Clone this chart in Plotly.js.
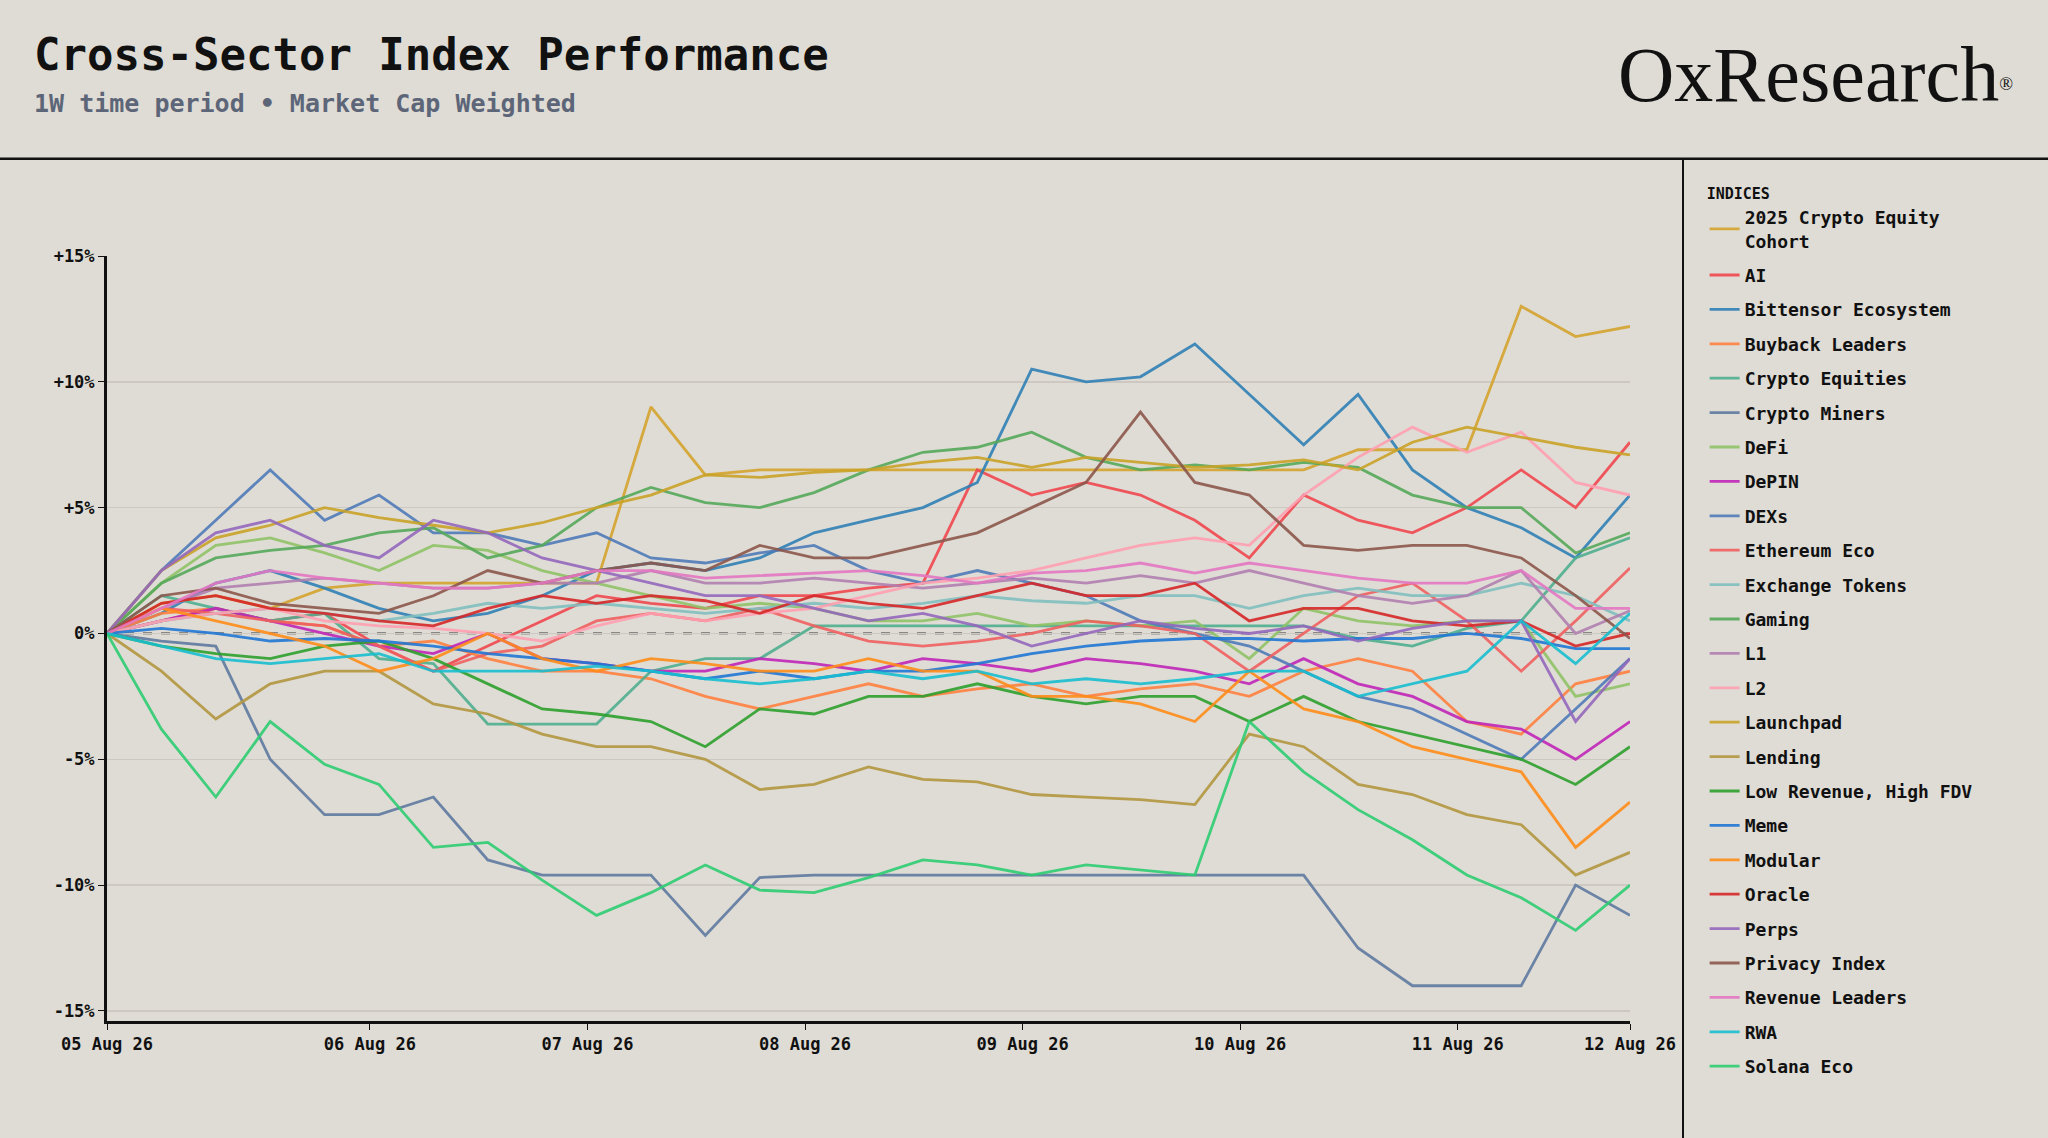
<!DOCTYPE html>
<html>
<head>
<meta charset="utf-8">
<script src="https://cdn.plot.ly/plotly-3.0.1.min.js"></script>
<style>
  html, body { margin: 0; padding: 0; background: #dfdcd5; }
  #chart { width: 2048px; height: 1138px; }
</style>
</head>
<body>
<div id="chart"></div>
<script>
// 1W of index returns (%), one point every 6 hours
const startTime = '2026-08-04T19:00:00';
const stepHours = 6;

const seriesNames = [
    '2025 Crypto Equity<br>Cohort', 'AI', 'Bittensor Ecosystem', 'Buyback Leaders', 'Crypto Equities',
    'Crypto Miners', 'DeFi', 'DePIN', 'DEXs', 'Ethereum Eco', 'Exchange Tokens', 'Gaming', 'L1', 'L2',
    'Launchpad', 'Lending', 'Low Revenue, High FDV', 'Meme', 'Modular', 'Oracle', 'Perps',
    'Privacy Index', 'Revenue Leaders', 'RWA', 'Solana Eco'
];

const seriesColors = [
    '#d4a32c', '#f0474f', '#2f7fb5', '#ff7f3f', '#4fae8f',
    '#5e79a0', '#8fc266', '#c026b8', '#4f7ab8', '#ef5f5f', '#7fbfbf', '#55a85a', '#b07fb0', '#ff9fb0',
    '#c9a227', '#b3963f', '#2ca02c', '#1f77d4', '#ff8c1a', '#d62728', '#9467bd',
    '#8c564b', '#e377c2', '#17becf', '#2ecc71'
];

const cohort2025 = [0, 1.2, 1.5, 1.0, 1.8, 2.0, 2.0, 2.0, 2.0, 2.0, 9.0, 6.3, 6.5, 6.5, 6.5, 6.5, 6.5, 6.5, 6.5, 6.5, 6.5, 6.5, 6.5, 7.3, 7.3, 7.3, 13.0, 11.8, 12.2];
const ai = [0, 0.5, 1.0, 0.5, 0.8, -0.5, -1.5, -0.5, 0.5, 1.5, 1.2, 1.0, 1.5, 1.5, 1.8, 2.0, 6.5, 5.5, 6.0, 5.5, 4.5, 3.0, 5.5, 4.5, 4.0, 5.0, 6.5, 5.0, 7.6];
const bittensor = [0, 0.8, 2.0, 2.5, 1.8, 1.0, 0.5, 0.8, 1.5, 2.5, 2.8, 2.5, 3.0, 4.0, 4.5, 5.0, 6.0, 10.5, 10.0, 10.2, 11.5, 9.5, 7.5, 9.5, 6.5, 5.0, 4.2, 3.0, 5.5];
const buyback = [0, 0.8, 1.0, 0.5, 0.3, -0.5, -0.3, -1.0, -1.5, -1.5, -1.8, -2.5, -3.0, -2.5, -2.0, -2.5, -2.2, -2.0, -2.5, -2.2, -2.0, -2.5, -1.5, -1.0, -1.5, -3.5, -4.0, -2.0, -1.5];
const cryptoEquities = [0, 1.5, 1.0, 0.5, 0.8, -1.0, -1.2, -3.6, -3.6, -3.6, -1.5, -1.0, -1.0, 0.3, 0.3, 0.3, 0.3, 0.3, 0.3, 0.3, 0.3, 0.3, 0.3, -0.2, -0.5, 0.2, 0.5, 3.0, 3.8];
const cryptoMiners = [0, -0.3, -0.5, -5.0, -7.2, -7.2, -6.5, -9.0, -9.6, -9.6, -9.6, -12.0, -9.7, -9.6, -9.6, -9.6, -9.6, -9.6, -9.6, -9.6, -9.6, -9.6, -9.6, -12.5, -14.0, -14.0, -14.0, -10.0, -11.2];
const defi = [0, 2.0, 3.5, 3.8, 3.2, 2.5, 3.5, 3.3, 2.5, 2.0, 1.5, 1.0, 1.2, 1.0, 0.5, 0.5, 0.8, 0.3, 0.5, 0.3, 0.5, -1.0, 1.0, 0.5, 0.3, 0.5, 0.5, -2.5, -2.0];
const depin = [0, 0.5, 1.0, 0.5, 0.0, -0.5, -0.8, 0.0, -1.0, -1.2, -1.5, -1.5, -1.0, -1.2, -1.5, -1.0, -1.2, -1.5, -1.0, -1.2, -1.5, -2.0, -1.0, -2.0, -2.5, -3.5, -3.8, -5.0, -3.5];
const dexs = [0, 2.5, 4.5, 6.5, 4.5, 5.5, 4.0, 4.0, 3.5, 4.0, 3.0, 2.8, 3.2, 3.5, 2.5, 2.0, 2.5, 2.0, 1.5, 0.5, 0.0, -0.5, -1.5, -2.5, -3.0, -4.0, -5.0, -3.0, -1.0];
const ethereumEco = [0, 1.0, 0.8, 0.5, 0.3, -0.5, -1.5, -0.8, -0.5, 0.5, 0.8, 0.5, 1.0, 0.3, -0.3, -0.5, -0.3, 0.0, 0.5, 0.3, 0.0, -1.5, 0.0, 1.5, 2.0, 0.5, -1.5, 0.5, 2.6];
const exchangeTokens = [0, 0.5, 0.8, 1.0, 0.8, 0.5, 0.8, 1.2, 1.0, 1.2, 1.0, 0.8, 1.0, 1.2, 1.0, 1.2, 1.5, 1.3, 1.2, 1.5, 1.5, 1.0, 1.5, 1.8, 1.5, 1.5, 2.0, 1.5, 0.5];
const gaming = [0, 2.0, 3.0, 3.3, 3.5, 4.0, 4.2, 3.0, 3.5, 5.0, 5.8, 5.2, 5.0, 5.6, 6.5, 7.2, 7.4, 8.0, 7.0, 6.5, 6.7, 6.5, 6.8, 6.6, 5.5, 5.0, 5.0, 3.2, 4.0];
const l1 = [0, 1.0, 1.8, 2.0, 2.2, 2.0, 1.8, 1.8, 2.0, 2.0, 2.5, 2.0, 2.0, 2.2, 2.0, 1.8, 2.0, 2.2, 2.0, 2.3, 2.0, 2.5, 2.0, 1.5, 1.2, 1.5, 2.5, 0.0, 0.9];
const l2 = [0, 0.5, 0.8, 1.0, 0.5, 0.3, 0.2, 0.0, -0.3, 0.3, 0.8, 0.5, 0.8, 1.0, 1.5, 2.0, 2.2, 2.5, 3.0, 3.5, 3.8, 3.5, 5.5, 7.0, 8.2, 7.2, 8.0, 6.0, 5.5];
const launchpad = [0, 2.5, 3.8, 4.3, 5.0, 4.6, 4.3, 4.0, 4.4, 5.0, 5.5, 6.3, 6.2, 6.4, 6.5, 6.8, 7.0, 6.6, 7.0, 6.8, 6.6, 6.7, 6.9, 6.5, 7.6, 8.2, 7.8, 7.4, 7.1];
const lending = [0, -1.5, -3.4, -2.0, -1.5, -1.5, -2.8, -3.2, -4.0, -4.5, -4.5, -5.0, -6.2, -6.0, -5.3, -5.8, -5.9, -6.4, -6.5, -6.6, -6.8, -4.0, -4.5, -6.0, -6.4, -7.2, -7.6, -9.6, -8.7];
const lowRevenue = [0, -0.5, -0.8, -1.0, -0.5, -0.3, -1.0, -2.0, -3.0, -3.2, -3.5, -4.5, -3.0, -3.2, -2.5, -2.5, -2.0, -2.5, -2.8, -2.5, -2.5, -3.5, -2.5, -3.5, -4.0, -4.5, -5.0, -6.0, -4.5];
const meme = [0, 0.2, 0.0, -0.3, -0.2, -0.3, -0.5, -0.8, -1.0, -1.2, -1.5, -1.8, -1.5, -1.8, -1.5, -1.5, -1.2, -0.8, -0.5, -0.3, -0.2, -0.2, -0.3, -0.2, -0.2, 0.0, -0.2, -0.6, -0.6];
const modular = [0, 1.0, 0.5, 0.0, -0.5, -1.5, -1.0, 0.0, -1.0, -1.5, -1.0, -1.2, -1.5, -1.5, -1.0, -1.5, -1.5, -2.5, -2.5, -2.8, -3.5, -1.5, -3.0, -3.5, -4.5, -5.0, -5.5, -8.5, -6.7];
const oracle = [0, 1.2, 1.5, 1.0, 0.8, 0.5, 0.3, 1.0, 1.5, 1.2, 1.5, 1.3, 0.8, 1.5, 1.2, 1.0, 1.5, 2.0, 1.5, 1.5, 2.0, 0.5, 1.0, 1.0, 0.5, 0.3, 0.5, -0.5, 0.0];
const perps = [0, 2.5, 4.0, 4.5, 3.5, 3.0, 4.5, 4.0, 3.0, 2.5, 2.0, 1.5, 1.5, 1.0, 0.5, 0.8, 0.3, -0.5, 0.0, 0.5, 0.2, 0.0, 0.3, -0.3, 0.2, 0.5, 0.5, -3.5, -1.0];
const privacy = [0, 1.5, 1.8, 1.2, 1.0, 0.8, 1.5, 2.5, 2.0, 2.5, 2.8, 2.5, 3.5, 3.0, 3.0, 3.5, 4.0, 5.0, 6.0, 8.8, 6.0, 5.5, 3.5, 3.3, 3.5, 3.5, 3.0, 1.5, -0.2];
const revenueLeaders = [0, 1.0, 2.0, 2.5, 2.2, 2.0, 1.8, 1.8, 2.0, 2.5, 2.5, 2.2, 2.3, 2.4, 2.5, 2.3, 2.0, 2.4, 2.5, 2.8, 2.4, 2.8, 2.5, 2.2, 2.0, 2.0, 2.5, 1.0, 1.0];
const rwa = [0, -0.5, -1.0, -1.2, -1.0, -0.8, -1.5, -1.5, -1.5, -1.3, -1.5, -1.8, -2.0, -1.8, -1.5, -1.8, -1.5, -2.0, -1.8, -2.0, -1.8, -1.5, -1.5, -2.5, -2.0, -1.5, 0.5, -1.2, 0.8];
const solanaEco = [0, -3.8, -6.5, -3.5, -5.2, -6.0, -8.5, -8.3, -9.8, -11.2, -10.3, -9.2, -10.2, -10.3, -9.7, -9.0, -9.2, -9.6, -9.2, -9.4, -9.6, -3.5, -5.5, -7.0, -8.2, -9.6, -10.5, -11.8, -10.0];

const seriesValues = [
    cohort2025, ai, bittensor, buyback, cryptoEquities, cryptoMiners, defi, depin, dexs, ethereumEco,
    exchangeTokens, gaming, l1, l2, launchpad, lending, lowRevenue, meme, modular, oracle, perps,
    privacy, revenueLeaders, rwa, solanaEco
];

const yTickVals = [15, 10, 5, 0, -5, -10, -15];
const yTickText = ['+15%', '+10%', '+5%', '0%', '-5%', '-10%', '-15%'];
const xTickVals = ['2026-08-04T19:00:00', '2026-08-06', '2026-08-07', '2026-08-08', '2026-08-09', '2026-08-10', '2026-08-11', '2026-08-11T19:00:00'];
const xTickText = ['05 Aug 26', '06 Aug 26', '07 Aug 26', '08 Aug 26', '09 Aug 26', '10 Aug 26', '11 Aug 26', '12 Aug 26'];

// timestamps for each sample
const t0 = new Date(startTime + 'Z').getTime();
const times = cohort2025.map(function(_, i) {
    return new Date(t0 + i * stepHours * 3600 * 1000).toISOString().slice(0, 19);
});

const mono = 'DejaVu Sans Mono, monospace';
const bg = '#dfdcd5';

// plot area is 107..1630 px wide, 256..1021 px tall; paper refs below are relative to it
const data = seriesNames.map(function(name, i) {
    return {
        type: 'scatter',
        mode: 'lines',
        name: name,
        legendgroup: 'g' + i,
        x: times,
        y: seriesValues[i],
        line: { color: seriesColors[i], width: 2.8 },
        opacity: 0.9
    };
});

const layout = {
    width: 2048,
    height: 1138,
    paper_bgcolor: bg,
    plot_bgcolor: bg,
    margin: { t: 256, r: 418, b: 117, l: 107 },
    font: { family: mono, color: '#111' },
    xaxis: {
        type: 'date',
        range: ['2026-08-04T19:00:00', '2026-08-11T19:00:00'],
        tickvals: xTickVals,
        ticktext: xTickText,
        showgrid: false,
        zeroline: false,
        showline: true,
        linecolor: '#111',
        linewidth: 3,
        ticks: 'outside',
        ticklen: 6,
        tickcolor: '#111',
        tickfont: { family: mono, size: 17, color: '#111', weight: 'bold' }
    },
    yaxis: {
        range: [-15.4, 15],
        tickvals: yTickVals,
        ticktext: yTickText,
        showgrid: true,
        gridcolor: '#cdc9c2',
        gridwidth: 1.5,
        zeroline: false,
        showline: true,
        linecolor: '#111',
        linewidth: 3,
        ticks: 'outside',
        ticklen: 6,
        tickcolor: '#111',
        tickfont: { family: mono, size: 17, color: '#111', weight: 'bold' }
    },
    showlegend: true,
    legend: {
        x: 1.049,
        xanchor: 'left',
        y: 1.10,
        yanchor: 'top',
        maxheight: 950,
        bgcolor: 'rgba(0,0,0,0)',
        font: { family: mono, size: 18, color: '#111', weight: 'bold' },
        title: { text: 'INDICES', font: { family: mono, size: 15, color: '#111', weight: 'bold' }, side: 'top' },
        tracegroupgap: 8,
        itemwidth: 30
    },
    shapes: [
        // zero reference
        { type: 'line', xref: 'x', yref: 'y', x0: '2026-08-04T19:00:00', x1: '2026-08-11T19:00:00', y0: 0, y1: 0,
          line: { color: '#333', width: 1.8, dash: 'dash' }, layer: 'below' },
        // header rule and legend divider
        { type: 'line', xref: 'paper', yref: 'paper', x0: -0.08, x1: 1.28, y0: 1.127, y1: 1.127,
          line: { color: '#111', width: 2.5 } },
        { type: 'line', xref: 'paper', yref: 'paper', x0: 1.0348, x1: 1.0348, y0: -0.16, y1: 1.127,
          line: { color: '#111', width: 2 } }
    ],
    annotations: [
        { xref: 'paper', yref: 'paper', x: -0.049, y: 1.263, xanchor: 'left', yanchor: 'middle', showarrow: false,
          text: '<b>Cross-Sector Index Performance</b>', font: { family: mono, size: 44, color: '#111' } },
        { xref: 'paper', yref: 'paper', x: -0.049, y: 1.199, xanchor: 'left', yanchor: 'middle', showarrow: false,
          text: '<b>1W time period • Market Cap Weighted</b>', font: { family: mono, size: 25, color: '#5d6678' } },
        { xref: 'paper', yref: 'paper', x: 1.253, y: 1.237, xanchor: 'right', yanchor: 'middle', showarrow: false,
          text: 'OxResearch<span style="font-size:26px"><sup>®</sup></span>', font: { family: 'Liberation Serif, serif', size: 78, color: '#111' } }
    ]
};

Plotly.newPlot('chart', data, layout, { displayModeBar: false, staticPlot: true });
</script>
</body>
</html>
